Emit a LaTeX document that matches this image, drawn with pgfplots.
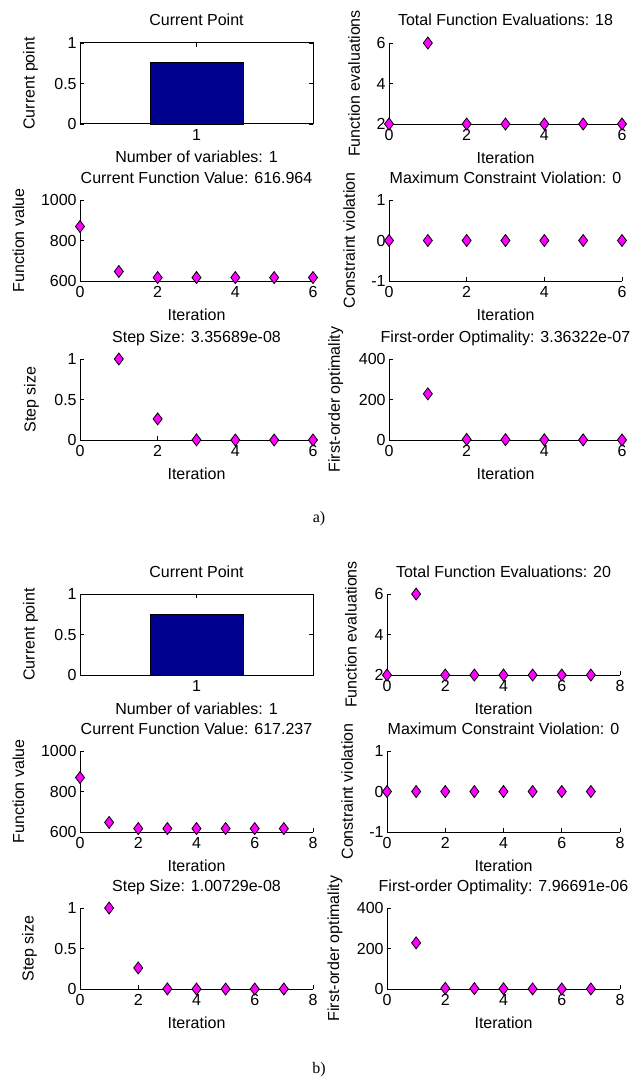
\documentclass[border=0pt]{standalone}
\usepackage{fontspec}
\setmainfont{Liberation Sans}
\newfontfamily\serifrm{Liberation Serif}
\usepackage{pgfplots}
\pgfplotsset{compat=1.18}
\definecolor{mbar}{RGB}{0,0,143}
\definecolor{mag}{RGB}{255,0,255}

\pgfplotsset{
  mbase/.style={
    anchor=north west, scale only axis, width=116.5pt, height=40.5pt,
    clip=false, scaled ticks=false,
    font=\fontsize{8}{9.6}\selectfont,
    /pgf/number format/assume math mode=true,
    /pgf/number format/1000 sep={},
    tick align=inside, major tick length=2pt,
    tick style={black, line width=0.4pt},
    axis line style={black, line width=0.5pt},
    every axis title shift=0pt,
    title style={at={(0.5,1)}, anchor=base, yshift=8.5pt, inner sep=0pt},
    xlabel style={at={(0.5,0)}, anchor=base, yshift=-19.5pt, inner sep=0pt},
    xticklabel style={inner sep=2.5pt},
    yticklabel style={inner sep=1.5pt},
  },
  ylab/.style={ylabel style={at={(axis description cs:#1,0.5)}, anchor=center}},
  it/.style={mbase, axis x line*=bottom, axis y line*=left, axis line style={-},
    xlabel={Iteration}, xmin=0},
  mk/.style={only marks, mark=diamond*, mark size=3pt,
    mark options={fill=mag, draw=black, line width=0.4pt}},
}

\begin{document}
\begin{tikzpicture}
\path[use as bounding box] (0,0) rectangle (319pt,-543pt);

% ---------- a) ----------
\begin{axis}[mbase, at={(40pt,-21.5pt)}, xmin=0, xmax=2, ymin=0, ymax=1,
  xtick={1}, ytick={0,0.5,1}, title={Current Point},
  xlabel={Number of variables: 1}, ylabel={Current point}, ylab=-0.212]
\addplot[ybar, bar width=0.8, fill=mbar, draw=black, line width=0.3pt] coordinates {(1,0.76)};
\end{axis}

\begin{axis}[it, at={(194.5pt,-21.5pt)}, xmax=6, ymin=2, ymax=6,
  xtick={0,2,4,6}, ytick={2,4,6}, title={Total Function Evaluations: 18},
  ylabel={Function evaluations}, ylab=-0.15]
\addplot[mk] coordinates {(0,2) (1,6) (2,2) (3,2) (4,2) (5,2) (6,2)};
\end{axis}

\begin{axis}[it, at={(40pt,-100pt)}, xmax=6, ymin=600, ymax=1000,
  xtick={0,2,4,6}, ytick={600,800,1000}, title={Current Function Value: 616.964},
  ylabel={Function value}, ylab=-0.264]
\addplot[mk] coordinates {(0,869) (1,647) (2,617) (3,617) (4,617) (5,617) (6,617)};
\end{axis}

\begin{axis}[it, at={(194.5pt,-100pt)}, xmax=6, ymin=-1, ymax=1,
  xtick={0,2,4,6}, ytick={-1,0,1}, title={Maximum Constraint Violation: 0},
  ylabel={Constraint violation}, ylab=-0.171]
\addplot[mk] coordinates {(0,0) (1,0) (2,0) (3,0) (4,0) (5,0) (6,0)};
\end{axis}

\begin{axis}[it, at={(40pt,-179.5pt)}, xmax=6, ymin=0, ymax=1,
  xtick={0,2,4,6}, ytick={0,0.5,1}, title={Step Size: 3.35689e-08},
  ylabel={Step size}, ylab=-0.208]
\addplot[mk] coordinates {(1,1) (2,0.26) (3,0.002) (4,0) (5,0) (6,0)};
\end{axis}

\begin{axis}[it, at={(194.5pt,-179.5pt)}, xmax=6, ymin=0, ymax=400,
  xtick={0,2,4,6}, ytick={0,200,400}, title={First-order Optimality: 3.36322e-07},
  ylabel={First-order optimality}, ylab=-0.229]
\addplot[mk] coordinates {(1,228) (2,3) (3,2) (4,1) (5,0.5) (6,0.3)};
\end{axis}

\node[font=\serifrm\fontsize{8}{9.6}\selectfont] at (159.5pt,-259.5pt) {a)};

% ---------- b) ----------
\begin{axis}[mbase, at={(40pt,-297pt)}, xmin=0, xmax=2, ymin=0, ymax=1,
  xtick={1}, ytick={0,0.5,1}, title={Current Point},
  xlabel={Number of variables: 1}, ylabel={Current point}, ylab=-0.212]
\addplot[ybar, bar width=0.8, fill=mbar, draw=black, line width=0.3pt] coordinates {(1,0.75)};
\end{axis}

\begin{axis}[it, at={(193.5pt,-297pt)}, xmax=8, ymin=2, ymax=6,
  xtick={0,2,4,6,8}, ytick={2,4,6}, title={Total Function Evaluations: 20},
  ylabel={Function evaluations}, ylab=-0.155]
\addplot[mk] coordinates {(0,2) (1,6) (2,2) (3,2) (4,2) (5,2) (6,2) (7,2)};
\end{axis}

\begin{axis}[it, at={(40pt,-375.5pt)}, xmax=8, ymin=600, ymax=1000,
  xtick={0,2,4,6,8}, ytick={600,800,1000}, title={Current Function Value: 617.237},
  ylabel={Function value}, ylab=-0.264]
\addplot[mk] coordinates {(0,869) (1,647) (2,617) (3,617) (4,617) (5,617) (6,617) (7,617)};
\end{axis}

\begin{axis}[it, at={(193.5pt,-375.5pt)}, xmax=8, ymin=-1, ymax=1,
  xtick={0,2,4,6,8}, ytick={-1,0,1}, title={Maximum Constraint Violation: 0},
  ylabel={Constraint violation}, ylab=-0.171]
\addplot[mk] coordinates {(0,0) (1,0) (2,0) (3,0) (4,0) (5,0) (6,0) (7,0)};
\end{axis}

\begin{axis}[it, at={(40pt,-454pt)}, xmax=8, ymin=0, ymax=1,
  xtick={0,2,4,6,8}, ytick={0,0.5,1}, title={Step Size: 1.00729e-08},
  ylabel={Step size}, ylab=-0.217]
\addplot[mk] coordinates {(1,1) (2,0.26) (3,0.002) (4,0) (5,0) (6,0) (7,0)};
\end{axis}

\begin{axis}[it, at={(193.5pt,-454pt)}, xmax=8, ymin=0, ymax=400,
  xtick={0,2,4,6,8}, ytick={0,200,400}, title={First-order Optimality: 7.96691e-06},
  ylabel={First-order optimality}, ylab=-0.223]
\addplot[mk] coordinates {(1,228) (2,3) (3,2) (4,1) (5,0.5) (6,0.3) (7,0.2)};
\end{axis}

\node[font=\serifrm\fontsize{8}{9.6}\selectfont] at (159.5pt,-535pt) {b)};
\end{tikzpicture}
\end{document}
